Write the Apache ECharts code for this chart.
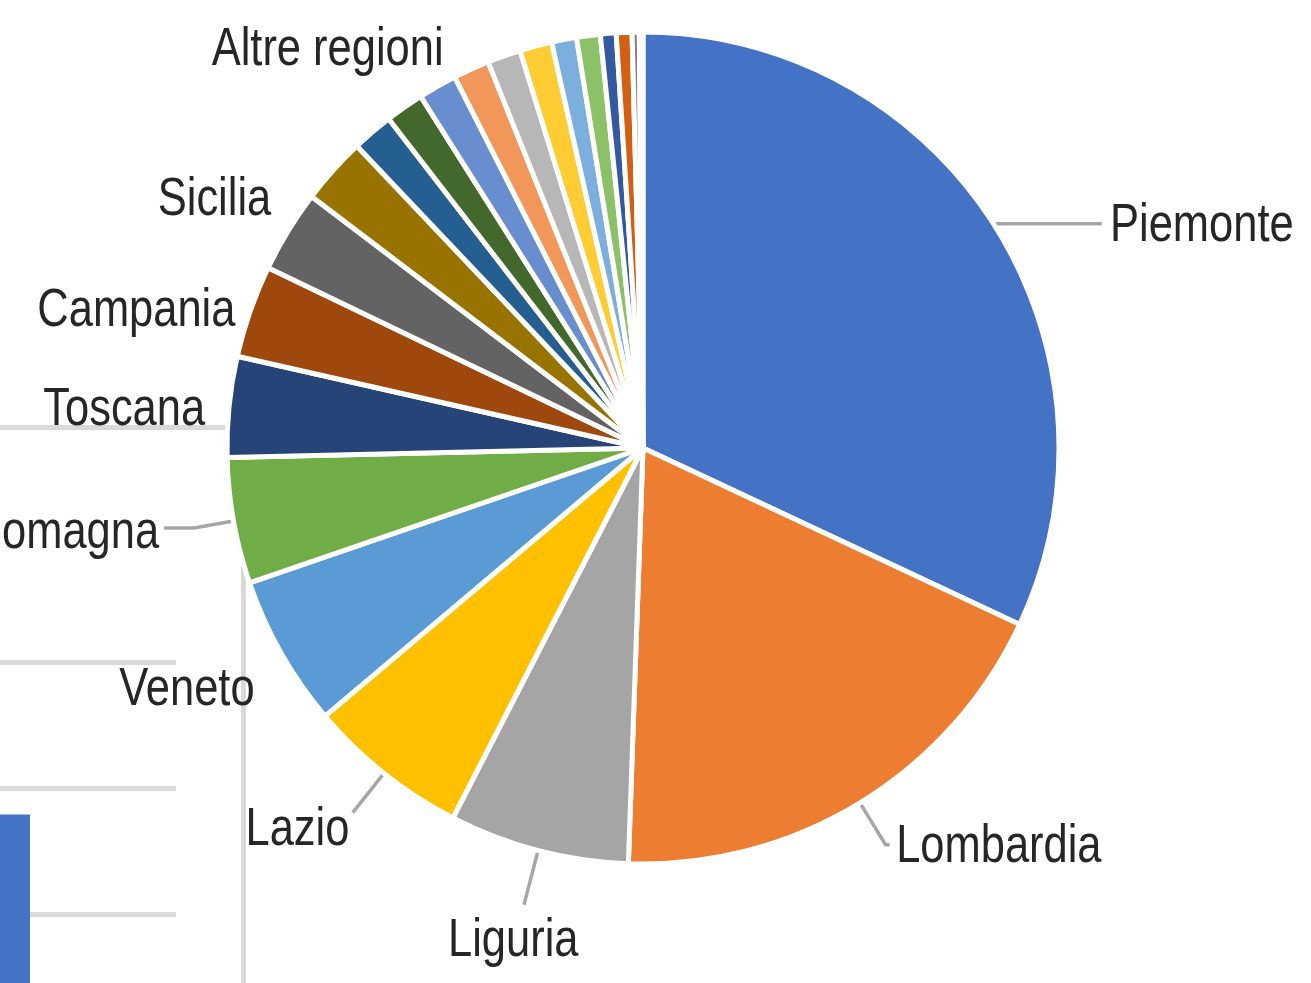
<!DOCTYPE html>
<html>
<head>
<meta charset="utf-8">
<script src="https://cdn.jsdelivr.net/npm/echarts@6/dist/echarts.min.js"></script>
<style>
html, body { margin: 0; padding: 0; background: #fff; }
#box { width: 1311px; height: 983px; }
</style>
</head>
<body>
<div id="box"></div>
<script>
// quote per regione (%), in senso orario dalle 12
const aRegioni = [
    'Piemonte', 'Lombardia', 'Liguria', 'Lazio', 'Veneto', 'Emilia-Romagna',
    'Toscana', 'Campania', 'Sicilia', 'Puglia', 'Sardegna', 'Friuli-Venezia Giulia',
    'Marche', 'Trentino-Alto Adige', 'Altre regioni', 'Abruzzo', 'Umbria', 'Calabria',
    "Valle d'Aosta", 'Basilicata', 'Molise', 'Estero',
];
const aQuote = [
    32.0, 18.6, 7.0, 6.3, 5.9, 4.9,
    3.9, 3.6, 3.2, 2.6, 1.6, 1.5,
    1.5, 1.4, 1.3, 1.25, 0.97, 0.92,
    0.61, 0.61, 0.28, 0.14,
];

// pezzo del grafico a barre che sta dietro (tagliato a sinistra)
const aBarCat = ['a', 'b'];
const aBarVal = [1.79, '-'];

const aColori = [
    '#4472C4', '#ED7D31', '#A5A5A5', '#FFC000', '#5B9BD5', '#70AD47',
    '#264478', '#9E480E', '#636363', '#997300', '#255E91', '#43682B',
    '#698ED0', '#F1975A', '#B7B7B7', '#FFCD33', '#7CAFDD', '#8CC168',
    '#335AA1', '#D26012', '#848484', '#CC9A00',
];

// solo queste etichette sono visibili
const oEtichette = {
    'Piemonte':       { len: 2,  len2: 106, line: true, dx: 4, dy: 3 },
    'Lombardia':      { len: 49, len2: 4,   line: true, dx: 2, dy: 3 },
    'Liguria':        { len: 56, len2: 0,   line: true, align: 'center', va: 'top', dx: -7, dy: 10 },
    'Lazio':          { len: 50, len2: 0,   line: true, dx: 2, dy: 18 },
    'Veneto':         { len: 20, len2: 0,   line: false, dx: -5, dy: 27 },
    'Emilia-Romagna': { len: 40, len2: 30,  line: true, dy: 5 },
    'Toscana':        { len: 10, len2: 9,   line: false, dy: 5 },
    'Campania':       { len: 5,  len2: 5,   line: false, dy: 2 },
    'Sicilia':        { len: 10, len2: 0,   line: false, dx: -4, dy: -25 },
    'Altre regioni':  { len: 10, len2: 52,  line: false, dy: 4 },
};
const fStretta = 0.82; // il carattere dell'originale è stretto

const sGrigio = '#D9D9D9';
const oNoAxis = { show: false };

const aData = aRegioni.map((name, i) => {
    const c = oEtichette[name];
    return {
        name,
        value: aQuote[i],
        label: { show: !!c },
        labelLine: c ? { show: c.line, length: c.len, length2: c.len2 } : { show: false },
    };
});

const myChart = echarts.init(document.getElementById('box'), null, { renderer: 'canvas' });
myChart.setOption({
    backgroundColor: '#fff',
    animation: false,
    grid: [
        { left: -60, right: 1135, top: 662, bottom: -57, outerBoundsMode: 'none' },
        { left: -10, right: 1068, top: 427, bottom: -100, outerBoundsMode: 'none' },
    ],
    xAxis: [
        { gridIndex: 0, type: 'category', data: aBarCat, show: false },
        {
            gridIndex: 1, type: 'value', position: 'top', min: 0, max: 1,
            axisLine: { show: true, onZero: false, lineStyle: { color: sGrigio, width: 5 } },
            axisTick: oNoAxis, axisLabel: oNoAxis, splitLine: oNoAxis,
        },
    ],
    yAxis: [
        {
            gridIndex: 0, type: 'value', min: 0, max: 3, interval: 1,
            axisLine: oNoAxis, axisTick: oNoAxis, axisLabel: oNoAxis,
            splitLine: { show: true, lineStyle: { color: sGrigio, width: 5 } },
        },
        {
            gridIndex: 1, type: 'value', position: 'right', min: 0, max: 1,
            axisLine: { show: true, onZero: false, lineStyle: { color: sGrigio, width: 5 } },
            axisTick: oNoAxis, axisLabel: oNoAxis, splitLine: oNoAxis,
        },
    ],
    series: [
        {
            type: 'bar',
            xAxisIndex: 0, yAxisIndex: 0,
            data: aBarVal,
            barWidth: 62,
            itemStyle: { color: '#4472C4' },
            silent: true,
            z: 1,
        },
        {
            type: 'pie',
            center: [643, 448],
            radius: 416,
            startAngle: 90,
            clockwise: true,
            avoidLabelOverlap: false,
            color: aColori,
            itemStyle: { borderColor: '#fff', borderWidth: 5 },
            label: {
                show: true,
                position: 'outside',
                formatter: '{b}',
                fontFamily: '"Liberation Sans", Arial, sans-serif',
                fontSize: 53,
                color: '#262626',
                overflow: 'none',
                distanceToLabelLine: 5,
            },
            labelLine: { lineStyle: { color: '#A6A6A6', width: 3.5 } },
            labelLayout(params) {
                const c = oEtichette[aRegioni[params.dataIndex]];
                if (!c) return {};
                return { dx: c.dx || 0, dy: c.dy || 0, align: c.align, verticalAlign: c.va };
            },
            data: aData,
            z: 5,
        },
    ],
});

// stringo le etichette in orizzontale attorno al loro punto d'aggancio
function stringiEtichette(){
    const zr = myChart.getZr();
    zr.storage.getDisplayList(true).forEach(el => {
        if (el.type !== 'sector' || !el.getTextContent) return;
        const oTxt = el.getTextContent();
        if (!oTxt || oTxt.ignore) return;
        oTxt.scaleX = fStretta;
        oTxt.markRedraw();
    });
    zr.refreshImmediately();
}
stringiEtichette();
myChart.on('finished', stringiEtichette);
</script>
</body>
</html>
